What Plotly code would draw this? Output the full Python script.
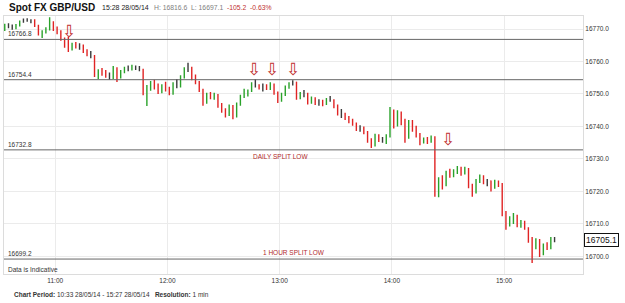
import plotly.graph_objects as go
import pandas as pd

# 2-minute bars, 10:33 -> 15:27 (28/05/14)
opens = [
    16769.6, 16771.0, 16770.6, 16770.3, 16771.2, 16772.4, 16772.9, 16772.6, 16772.7, 16771.0,
    16768.5, 16769.2, 16770.1, 16771.8, 16770.0, 16769.0, 16767.0, 16764.8, 16763.8, 16765.4,
    16764.6, 16765.0, 16763.2, 16762.2, 16761.6, 16756.0, 16757.2, 16756.4, 16755.6, 16755.0,
    16757.8, 16755.0, 16756.8, 16758.0, 16757.6, 16758.4, 16757.8, 16757.4, 16750.2, 16751.6,
    16753.4, 16752.0, 16750.6, 16752.6, 16751.4, 16750.2, 16753.0, 16752.4, 16755.2, 16757.6,
    16758.0, 16754.8, 16753.6, 16751.2, 16747.2, 16749.8, 16749.0, 16749.8, 16746.4, 16745.0,
    16743.6, 16746.2, 16743.2, 16747.0, 16749.4, 16750.2, 16751.0, 16753.0, 16752.6, 16751.8,
    16752.4, 16751.6, 16753.0, 16750.4, 16748.0, 16749.8, 16752.0, 16753.2, 16753.6, 16748.8,
    16750.0, 16749.6, 16747.4, 16748.8, 16747.2, 16747.8, 16746.8, 16748.4, 16748.0, 16746.2,
    16744.0, 16743.4, 16742.6, 16741.6, 16740.8, 16739.2, 16739.8, 16738.2, 16735.8, 16734.2,
    16737.2, 16735.8, 16736.2, 16737.0, 16744.4, 16740.4, 16743.6, 16741.4, 16736.6, 16741.0,
    16739.2, 16737.4, 16735.0, 16736.2, 16735.4, 16736.6, 16719.2, 16723.6, 16722.0, 16725.8,
    16724.8, 16726.2, 16727.2, 16725.6, 16727.0, 16721.8, 16719.8, 16723.2, 16724.6, 16722.8,
    16723.2, 16721.2, 16723.0, 16722.0, 16713.4, 16709.6, 16711.6, 16712.6, 16709.6, 16710.6,
    16708.8, 16705.0, 16703.4, 16704.8, 16701.0, 16703.4, 16702.6, 16705.4,
]
highs = [
    16771.6, 16771.8, 16771.4, 16771.5, 16772.6, 16773.2, 16773.3, 16773.0, 16773.0, 16771.3,
    16769.6, 16770.5, 16773.6, 16772.4, 16770.8, 16769.6, 16767.4, 16767.6, 16765.8, 16766.0,
    16765.6, 16765.2, 16763.8, 16763.2, 16762.0, 16757.6, 16758.0, 16757.4, 16756.6, 16758.6,
    16758.2, 16757.4, 16758.4, 16758.8, 16759.0, 16758.8, 16758.6, 16757.8, 16752.8, 16754.0,
    16754.4, 16753.2, 16753.0, 16753.8, 16752.2, 16753.6, 16754.6, 16755.8, 16758.2, 16759.6,
    16758.4, 16756.0, 16754.0, 16751.6, 16750.4, 16750.6, 16750.4, 16750.0, 16747.2, 16745.6,
    16746.8, 16746.6, 16747.4, 16749.8, 16751.6, 16751.4, 16753.6, 16754.5, 16753.0, 16753.2,
    16753.0, 16753.6, 16753.2, 16750.8, 16750.4, 16752.6, 16753.6, 16754.2, 16753.8, 16750.6,
    16751.2, 16750.4, 16749.2, 16749.0, 16748.4, 16748.2, 16748.8, 16749.4, 16748.4, 16746.8,
    16745.4, 16744.2, 16743.2, 16742.4, 16741.2, 16740.4, 16740.0, 16738.6, 16736.4, 16737.8,
    16737.6, 16736.8, 16737.6, 16746.0, 16745.2, 16745.0, 16744.6, 16742.4, 16742.0, 16742.0,
    16740.2, 16738.0, 16736.6, 16736.8, 16737.2, 16737.0, 16724.4, 16725.0, 16726.4, 16727.0,
    16726.8, 16727.8, 16727.6, 16727.6, 16727.2, 16722.4, 16723.8, 16725.2, 16725.0, 16723.8,
    16723.4, 16723.6, 16723.4, 16722.6, 16714.0, 16712.4, 16713.4, 16712.8, 16711.2, 16711.0,
    16709.0, 16706.0, 16705.6, 16705.4, 16704.0, 16704.4, 16706.0, 16706.0,
]
lows = [
    16769.4, 16770.2, 16769.8, 16769.9, 16770.8, 16771.9, 16772.2, 16771.8, 16770.6, 16768.0,
    16767.2, 16768.6, 16769.5, 16769.4, 16768.4, 16766.4, 16764.2, 16762.9, 16763.4, 16764.0,
    16763.6, 16762.6, 16761.6, 16761.0, 16755.2, 16754.6, 16755.6, 16755.0, 16754.4, 16754.6,
    16753.7, 16754.8, 16756.4, 16757.0, 16757.2, 16757.4, 16757.0, 16749.6, 16746.3, 16751.0,
    16751.4, 16750.0, 16750.2, 16750.8, 16749.6, 16749.8, 16751.8, 16752.0, 16754.8, 16756.8,
    16754.2, 16753.0, 16750.6, 16746.4, 16747.0, 16748.4, 16748.2, 16745.8, 16744.2, 16742.8,
    16743.2, 16742.2, 16742.8, 16746.4, 16748.8, 16749.2, 16750.6, 16752.0, 16751.4, 16750.8,
    16751.2, 16751.2, 16749.8, 16747.2, 16747.6, 16749.4, 16751.6, 16752.6, 16748.2, 16748.4,
    16749.0, 16746.8, 16747.0, 16746.6, 16746.4, 16746.2, 16746.6, 16747.6, 16745.6, 16743.4,
    16742.6, 16742.0, 16741.0, 16740.2, 16738.6, 16738.4, 16737.6, 16735.0, 16733.4, 16733.8,
    16735.2, 16735.0, 16734.6, 16736.6, 16739.4, 16740.0, 16740.4, 16735.0, 16736.2, 16738.4,
    16736.6, 16734.2, 16734.8, 16734.6, 16735.0, 16718.4, 16718.2, 16720.6, 16721.6, 16724.2,
    16724.4, 16725.4, 16724.8, 16725.2, 16721.0, 16718.4, 16719.4, 16722.6, 16722.2, 16721.6,
    16720.0, 16720.8, 16721.4, 16712.4, 16708.2, 16709.2, 16710.0, 16709.0, 16708.8, 16708.2,
    16704.2, 16698.0, 16702.2, 16699.8, 16700.4, 16702.0, 16702.2, 16704.4,
]
closes = [
    16771.2, 16770.6, 16770.2, 16771.2, 16772.4, 16772.9, 16772.6, 16772.7, 16771.0, 16768.5,
    16769.2, 16770.1, 16771.8, 16770.0, 16769.0, 16767.0, 16764.8, 16763.8, 16765.4, 16764.6,
    16765.0, 16763.2, 16762.2, 16761.6, 16756.0, 16757.2, 16756.4, 16755.6, 16755.0, 16757.8,
    16755.0, 16756.8, 16758.0, 16757.6, 16758.4, 16757.8, 16757.4, 16750.2, 16751.6, 16753.4,
    16752.0, 16750.6, 16752.6, 16751.4, 16750.2, 16753.0, 16752.4, 16755.2, 16757.6, 16758.0,
    16754.8, 16753.6, 16751.2, 16747.2, 16749.8, 16749.0, 16749.8, 16746.4, 16745.0, 16743.6,
    16746.2, 16743.2, 16747.0, 16749.4, 16750.2, 16751.0, 16753.0, 16752.6, 16751.8, 16752.4,
    16751.6, 16753.0, 16750.4, 16748.0, 16749.8, 16752.0, 16753.2, 16753.6, 16748.8, 16750.0,
    16749.6, 16747.4, 16748.8, 16747.2, 16747.8, 16746.8, 16748.4, 16748.0, 16746.2, 16744.0,
    16743.4, 16742.6, 16741.6, 16740.8, 16739.2, 16739.8, 16738.2, 16735.8, 16734.2, 16737.2,
    16735.8, 16736.2, 16737.0, 16744.4, 16740.4, 16743.6, 16741.4, 16736.6, 16741.0, 16739.2,
    16737.4, 16735.0, 16736.2, 16735.4, 16736.6, 16719.2, 16723.6, 16722.0, 16725.8, 16724.8,
    16726.2, 16727.2, 16725.6, 16727.0, 16721.8, 16719.8, 16723.2, 16724.6, 16722.8, 16723.2,
    16721.2, 16723.0, 16722.0, 16713.4, 16709.6, 16711.6, 16712.6, 16709.6, 16710.6, 16708.8,
    16705.0, 16703.4, 16704.8, 16701.0, 16703.4, 16702.6, 16705.4, 16705.1,
]
times = pd.date_range("2014-05-28 10:33", periods=len(closes), freq="2min")

split_levels = [16766.8, 16754.4, 16732.8, 16699.2]
price_ticks = [16700, 16710, 16720, 16730, 16740, 16750, 16760, 16770]
hour_ticks = ["2014-05-28 11:00", "2014-05-28 12:00", "2014-05-28 13:00",
              "2014-05-28 14:00", "2014-05-28 15:00"]
arrow_times = ["2014-05-28 11:07:20", "2014-05-28 12:46:06", "2014-05-28 12:55:42",
               "2014-05-28 13:06:57", "2014-05-28 14:30:06"]
arrow_prices = [16769.4, 16757.7, 16757.7, 16757.7, 16736.2]

GREEN = "#2aa22a"
RED = "#e02424"
DARK = "#3a3a3a"
TXT = "#333333"
FONT = "Liberation Sans, Arial, sans-serif"

big = [abs(c - o) >= 0.7 for o, c in zip(opens, closes)]
small = [not b for b in big]


def pick(seq, mask):
    return [v for v, m in zip(seq, mask) if m]


fig = go.Figure()
fig.add_trace(go.Ohlc(
    x=pick(times, big), open=pick(opens, big), high=pick(highs, big),
    low=pick(lows, big), close=pick(closes, big),
    increasing=dict(line=dict(color=GREEN, width=1.4)),
    decreasing=dict(line=dict(color=RED, width=1.4)),
    tickwidth=0.15, showlegend=False, hoverinfo="skip"))
fig.add_trace(go.Ohlc(
    x=pick(times, small), open=pick(opens, small), high=pick(highs, small),
    low=pick(lows, small), close=pick(closes, small),
    increasing=dict(line=dict(color=DARK, width=1.4)),
    decreasing=dict(line=dict(color=DARK, width=1.4)),
    tickwidth=0.15, showlegend=False, hoverinfo="skip"))

shapes = []
annotations = []
for lvl in split_levels:
    shapes.append(dict(type="line", xref="paper", x0=0, x1=1, yref="y", y0=lvl, y1=lvl,
                       line=dict(color="#666666", width=1)))
    annotations.append(dict(xref="paper", x=0.004, yref="y", y=lvl, xanchor="left",
                            yanchor="bottom", text=f"{lvl:.1f}", showarrow=False,
                            font=dict(size=6.5, color=TXT, family=FONT), yshift=0))

annotations.append(dict(xref="paper", x=0.478, yref="y", y=split_levels[2], xanchor="center",
                        yanchor="top", text="DAILY SPLIT LOW", showarrow=False,
                        font=dict(size=6.5, color="#b02a2a", family=FONT), yshift=-1))
annotations.append(dict(xref="paper", x=0.501, yref="y", y=split_levels[3], xanchor="center",
                        yanchor="bottom", text="1 HOUR SPLIT LOW", showarrow=False,
                        font=dict(size=6.5, color="#b02a2a", family=FONT), yshift=1))

for t, p in zip(arrow_times, arrow_prices):
    annotations.append(dict(xref="x", x=t, yref="y", y=p, text="⇩", showarrow=False,
                            yanchor="middle",
                            font=dict(size=17, color="#c0302f", family="DejaVu Sans")))

HY = (274 - 8) / 258
annotations += [
    dict(xref="paper", x=(7 - 4) / 579, yref="paper", y=HY, xanchor="left",
         yanchor="middle", text="<b>Spot FX GBP/USD</b>", showarrow=False,
         font=dict(size=10, color="#111111", family=FONT)),
    dict(xref="paper", x=(100 - 4) / 579, yref="paper", y=HY, xanchor="left",
         yanchor="middle", text="15:28 28/05/14", showarrow=False,
         font=dict(size=7, color="#222222", family=FONT)),
    dict(xref="paper", x=(152 - 4) / 579, yref="paper", y=HY, xanchor="left",
         yanchor="middle", text="H: 16816.6&nbsp;&nbsp;L: 16697.1", showarrow=False,
         font=dict(size=6.8, color="#808080", family=FONT)),
    dict(xref="paper", x=(225 - 4) / 579, yref="paper", y=HY, xanchor="left",
         yanchor="middle", text="-105.2&nbsp;&nbsp;-0.63%", showarrow=False,
         font=dict(size=6.8, color="#c0302f", family=FONT)),
    dict(xref="paper", x=(6 - 4) / 579, yref="paper", y=(274 - 269) / 258, xanchor="left",
         yanchor="middle", text="Data is Indicative", showarrow=False,
         font=dict(size=6.5, color=TXT, family=FONT)),
    dict(xref="paper", x=(12 - 4) / 579, yref="paper", y=(274 - 294) / 258, xanchor="left",
         yanchor="middle",
         text="<b>Chart Period:</b> 10:33 28/05/14 - 15:27 28/05/14&nbsp;&nbsp;&nbsp;<b>Resolution:</b> 1 min",
         showarrow=False, font=dict(size=6.5, color=TXT, family=FONT)),
    dict(xref="paper", x=1, yref="y", y=closes[-1], xanchor="left", yanchor="middle",
         xshift=1, text=f"{closes[-1]:.1f}", showarrow=False, bordercolor="#111111",
         borderwidth=1, borderpad=1, bgcolor="white",
         font=dict(size=8.5, color="#111111", family=FONT)),
]

fig.update_layout(
    width=625, height=303,
    margin=dict(l=4, r=42, t=16, b=29),
    paper_bgcolor="white", plot_bgcolor="white",
    showlegend=False,
    font=dict(family=FONT, size=7, color=TXT),
    shapes=shapes, annotations=annotations,
    xaxis=dict(type="date", range=["2014-05-28 10:32:36", "2014-05-28 15:42:12"],
               tickvals=hour_ticks, tickformat="%H:%M", tickfont=dict(size=6.5, color=TXT),
               showgrid=True, gridcolor="#ebebeb", gridwidth=1, showline=True,
               linecolor="#dcdcdc", mirror=True, ticks="", zeroline=False,
               rangeslider=dict(visible=False)),
    yaxis=dict(side="right", range=[16694.6, 16774.0], tickvals=price_ticks,
               ticktext=[f"{v:.1f}" for v in price_ticks], tickfont=dict(size=6.5, color=TXT),
               showgrid=True, gridcolor="#ebebeb", gridwidth=1, showline=True,
               linecolor="#dcdcdc", mirror=True, ticks="", zeroline=False),
)

fig.write_html("out.html")
